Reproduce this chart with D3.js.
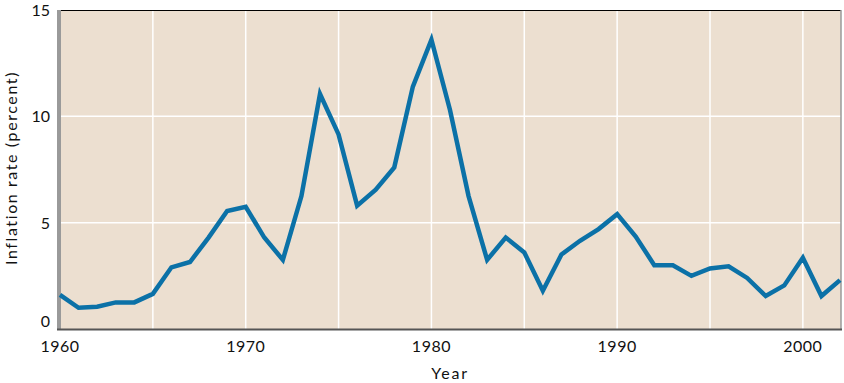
<!DOCTYPE html>
<html><head><meta charset="utf-8">
<script src="https://cdn.jsdelivr.net/npm/d3@7"></script>
<style>body{margin:0;background:#fff}svg{display:block}text{font-family:Lato,"Open Sans",sans-serif;fill:#111}</style>
</head><body><svg id="c" width="844" height="383"></svg>
<script>
const years = d3.range(1960, 2003);
const inflation = [1.6,1.0,1.05,1.25,1.25,1.65,2.9,3.15,4.3,5.55,5.75,4.3,3.25,6.25,11.05,9.15,5.8,6.55,7.6,11.4,13.6,10.3,6.25,3.25,4.3,3.6,1.8,3.5,4.15,4.7,5.4,4.35,3.0,3.0,2.5,2.85,2.95,2.4,1.55,2.05,3.35,1.55,2.3];
const yTicks = [0,5,10,15];
const xTicks = [1960,1970,1980,1990,2000];
const xGrid = [1965,1970,1975,1980,1985,1990,1995,2000];
const yGrid = [5,10];

const svg = d3.select("#c");
const x = d3.scaleLinear().domain([1960,2002]).range([60,840]);
const y = d3.scaleLinear().domain([0,15]).range([329,10]);

svg.append("rect").attr("x",60).attr("y",10).attr("width",781).attr("height",319).attr("fill","#ecdfd0");
svg.selectAll(".vg").data(xGrid).join("line").attr("x1",d=>x(d)).attr("x2",d=>x(d)).attr("y1",10).attr("y2",329).attr("stroke","#fff").attr("stroke-width",1.5);
svg.selectAll(".hg").data(yGrid).join("line").attr("x1",60).attr("x2",841).attr("y1",d=>y(d)).attr("y2",d=>y(d)).attr("stroke","#fff").attr("stroke-width",1.5);
// frame
svg.append("line").attr("x1",57).attr("x2",841).attr("y1",10.5).attr("y2",10.5).attr("stroke","#000").attr("stroke-width",1);
svg.append("rect").attr("x",57).attr("y",10).attr("width",4).attr("height",320).attr("fill","#9a9a9a");
svg.append("line").attr("x1",841).attr("x2",841).attr("y1",10).attr("y2",330).attr("stroke","#9a9a9a").attr("stroke-width",1.5);
svg.append("line").attr("x1",57).attr("x2",842).attr("y1",329.5).attr("y2",329.5).attr("stroke","#555").attr("stroke-width",2);

const line = d3.line().x((d,i)=>x(years[i])).y(d=>y(d));
svg.append("path").datum(inflation).attr("d",line).attr("fill","none").attr("stroke","#0b71a7").attr("stroke-width",4.5).attr("stroke-linejoin","miter");

// axes labels
svg.selectAll(".yt").data(yTicks).join("text").attr("x",50).attr("y",d=> d===0 ? 323 : y(d)+2).attr("text-anchor","end").attr("dominant-baseline","middle").attr("font-size",16).text(d=>d);
svg.selectAll(".xt").data(xTicks).join("text").attr("x",d=>x(d)).attr("y",352).attr("text-anchor","middle").attr("font-size",16).attr("letter-spacing",0.5).text(d=>d);
svg.append("text").attr("x",450).attr("y",379).attr("text-anchor","middle").attr("font-size",16).attr("letter-spacing",1.8).text("Year");
svg.append("text").attr("transform","translate(17,168) rotate(-90)").attr("text-anchor","middle").attr("font-size",16).attr("letter-spacing",1.6).text("Inflation rate (percent)");
</script></body></html>
